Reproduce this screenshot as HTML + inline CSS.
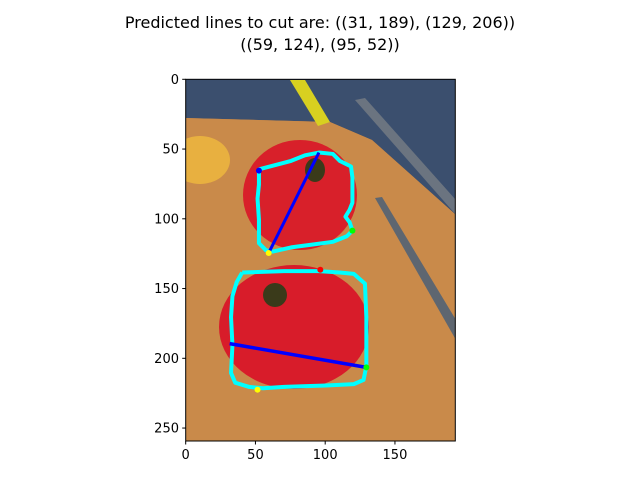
<!DOCTYPE html>
<html><head><meta charset="utf-8"><style>
html,body{margin:0;padding:0;background:#fff;}
svg{display:block;font-family:"DejaVu Sans","Liberation Sans",sans-serif;}
</style></head><body>
<svg id="chart" width="640" height="480" viewBox="0 0 640 480">
<text x="320" y="28" font-size="16" text-anchor="middle">Predicted lines to cut are: ((31, 189), (129, 206))</text>
<text x="320" y="50" font-size="16" text-anchor="middle">((59, 124), (95, 52))</text>
<defs><clipPath id="ax"><rect x="185.7" y="79.3" width="269.6" height="361.7"/></clipPath></defs>
<g id="photo" clip-path="url(#ax)"></g>
<g id="overlay" clip-path="url(#ax)"></g>
<rect x="185.7" y="79.3" width="269.6" height="361.7" fill="none" stroke="#000" stroke-width="1"/>
<g id="ticks"></g>
</svg>
<script>
const xTicks=[0,50,100,150];
const yTicks=[0,50,100,150,200,250];
const cutLineA=[[31,189],[129,206]];
const cutLineB=[[59,124],[95,52]];
const contourTop=[[52,64],[60,62],[75,58],[85,54],[95,52],[105,53],[110,58],[118,62],[119,70],[119,88],[117,93],[114,98],[117,102],[119,108],[115,112],[105,116],[90,118],[75,120],[62,123],[57,122],[52,117],[52,100],[51,85],[52,75],[52,64]];
const contourBottom=[[40,138],[70,137],[95,137],[110,138],[120,139],[128,146],[129,170],[129,205],[127,215],[120,218],[100,219],[70,220],[55,221],[45,220],[35,217],[32,210],[33,190],[32,170],[33,155],[36,145],[40,138]];
const markerX=[52,119,59,96,51,129];
const markerY=[65,108,124,136,222,206];
const markerColors=["#0000ff","#00ff00","#ffff00","#ff0000","#ffff00","#00ff00"];
const S=1.395, X0=185.7, Y0=79.3;
const px=x=>X0+(x+0.5)*S, py=y=>Y0+(y+0.5)*S;
const NS="http://www.w3.org/2000/svg";
function mk(tag,attrs,parent){const e=document.createElementNS(NS,tag);for(const k in attrs)e.setAttribute(k,attrs[k]);parent.appendChild(e);return e;}
const photo=document.getElementById('photo');
let e;
e=mk('rect',{x:185,y:79,width:272,height:364,fill:'#c07a3a'},photo);

e=mk('polygon',{points:'185,79 456,79 456,215 372,140 330,122 185,118',fill:'#3b4f6e'},photo);

e=mk('polygon',{points:'185,118 330,122 372,140 456,215 456,441 185,441',fill:'#c98a4a'},photo);

e=mk('polygon',{points:'290,80 305,80 330,122 318,126',fill:'#d8d020'},photo);

e=mk('polygon',{points:'355,100 365,98 456,200 456,215',fill:'#6b7480'},photo);

e=mk('polygon',{points:'375,198 382,197 456,320 456,340',fill:'#5e6670'},photo);

e=mk('ellipse',{cx:200,cy:160,rx:30,ry:24,fill:'#e8b040'},photo);

e=mk('ellipse',{cx:300,cy:195,rx:57,ry:55,fill:'#d8202a'},photo);

e=mk('ellipse',{cx:294,cy:327,rx:75,ry:62,fill:'#d81c2a'},photo);

e=mk('ellipse',{cx:315,cy:170,rx:10,ry:12,fill:'#3a3a1a'},photo);

e=mk('ellipse',{cx:275,cy:295,rx:12,ry:12,fill:'#3a3a1a'},photo);

const ov=document.getElementById('overlay');
function poly(pts,color,w,name){
  const l=mk('polyline',{points:pts.map(p=>px(p[0])+','+py(p[1])).join(' '),fill:'none',stroke:color,'stroke-width':w,'stroke-linejoin':'round'},ov);
  
  
}
poly(contourTop,'#00ffff',4,'contour-top');
poly(contourBottom,'#00ffff',4,'contour-bottom');
poly(cutLineA,'#0000ff',3.5,'cut-line-a');
poly(cutLineB,'#0000ff',3,'cut-line-b');
markerX.forEach((x,i)=>{
  const c=mk('circle',{cx:px(x),cy:py(markerY[i]),r:3,fill:markerColors[i]},ov);
  
  
});
const tk=document.getElementById('ticks');
xTicks.forEach(v=>{
  const x=px(v)-0.7;
  const l=mk('line',{x1:x,y1:441,x2:x,y2:444.5,stroke:'#000'},tk);
  
  
  const t=mk('text',{x:x,y:459,'font-size':13,'text-anchor':'middle'},tk);
  t.textContent=v;
  
  
});
yTicks.forEach(v=>{
  const y=py(v)-0.7;
  const l=mk('line',{x1:182.2,y1:y,x2:185.7,y2:y,stroke:'#000'},tk);
  
  
  const t=mk('text',{x:179,y:y+4.5,'font-size':13,'text-anchor':'end'},tk);
  t.textContent=v;
  
  
});
</script>
</body></html>
